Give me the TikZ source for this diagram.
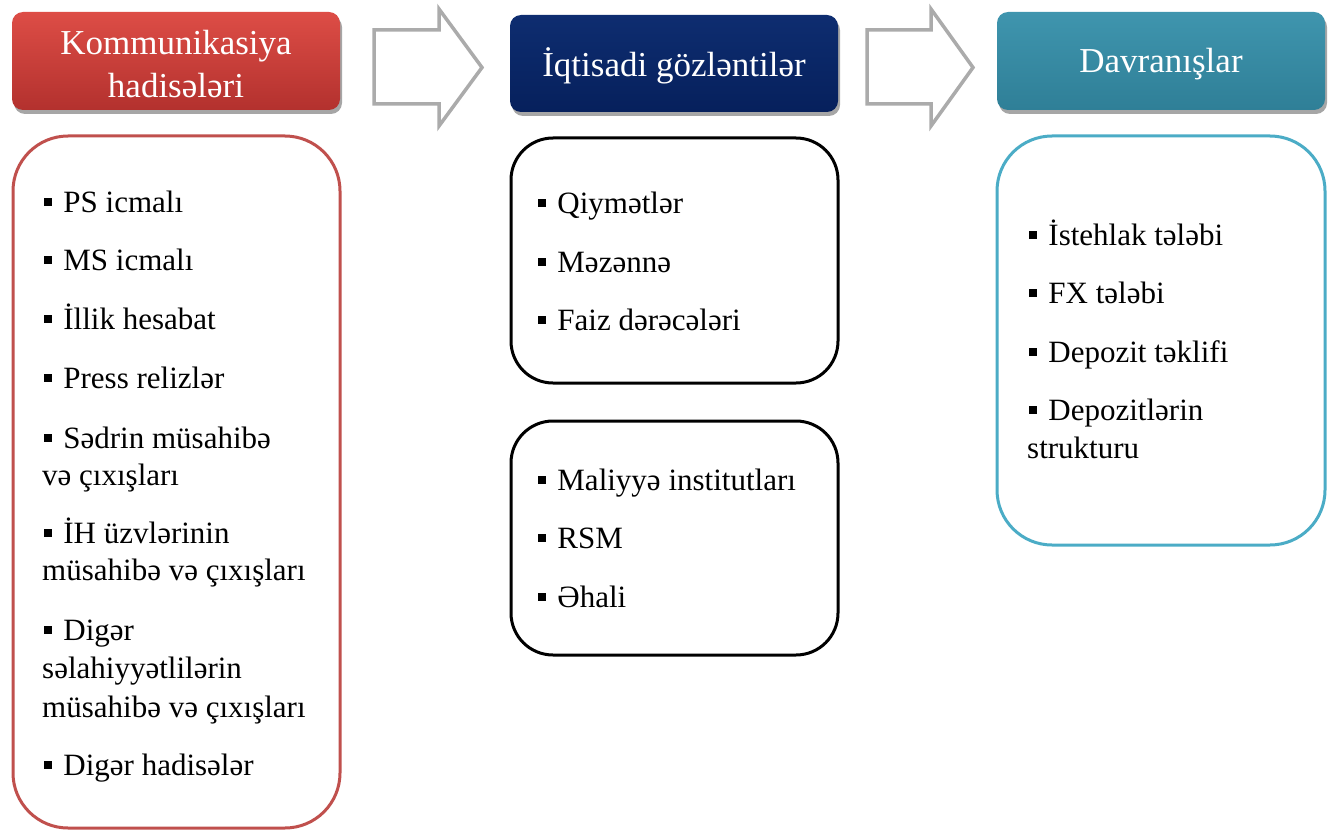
\documentclass[tikz,border=0pt]{standalone}
\usepackage{fontspec}
\setmainfont{Liberation Serif}
\usetikzlibrary{shadows,calc}
\definecolor{hdred}{HTML}{C0504D}
\definecolor{hdredtop}{HTML}{DD4D46}
\definecolor{hdredbot}{HTML}{B3312E}
\definecolor{hdnavytop}{HTML}{0E2D70}
\definecolor{hdnavybot}{HTML}{06205C}
\definecolor{hdtealtop}{HTML}{3F95AE}
\definecolor{hdtealbot}{HTML}{2F7F97}
\definecolor{tealline}{HTML}{4BACC6}
\definecolor{arrowgray}{HTML}{ABABAB}
\newcommand{\bul}{\rule[0.2em]{0.26em}{0.26em}\hspace{0.36em}}
\begin{document}
\begin{tikzpicture}[x=1pt,y=-1pt,
  hdr/.style={rounded corners=11pt, inner sep=0pt, text=white,
    font=\fontsize{35}{43}\selectfont, align=center,
    drop shadow={shadow xshift=2pt, shadow yshift=-4pt, opacity=0.35, fill=black}},
  hdtext/.style={inner sep=0pt, text=white, font=\fontsize{35}{43}\selectfont, align=center},
  listbox/.style={rounded corners=#1, line width=3pt, fill=white},
  item/.style={anchor=base west, inner sep=0pt, font=\fontsize{31}{37}\selectfont},
  hollowarrow/.style={draw=arrowgray, line width=3.5pt, line join=miter, fill=white}
]
\useasboundingbox (0,0) rectangle (1330,832);
% headers
\node[hdr, minimum width=328pt, minimum height=98pt, top color=hdredtop, bottom color=hdredbot] (h1) at (176,61) {};
\node[hdtext] (t1) at (176,64) {Kommunikasiya\\hadisələri};
\node[hdr, minimum width=328pt, minimum height=97pt, top color=hdnavytop, bottom color=hdnavybot] (h2) at (674,63.5) {};
\node[hdtext] (t2) at (674,66) {İqtisadi gözləntilər};
\node[hdr, minimum width=328pt, minimum height=98pt, top color=hdtealtop, bottom color=hdtealbot] (h3) at (1161,61) {};
\node[hdtext] (t3) at (1161,64) {Davranışlar};
% hollow arrows
\draw[hollowarrow] (374,30) -- (439,30) -- (439,9) -- (482,67.5) -- (439,126) -- (439,104) -- (374,104) -- cycle;
\draw[hollowarrow] (867,30) -- (931,30) -- (931,9) -- (973,67.5) -- (931,126) -- (931,104) -- (867,104) -- cycle;
\coordinate (a1) at (374,67);
\coordinate (a2) at (867,67);
% list boxes
\draw[listbox=55pt, draw=hdred] (13,136) rectangle (340,828);
\node[inner sep=0pt, minimum width=327pt, minimum height=692pt] (b1) at (176.5,482) {};
\draw[listbox=42pt, draw=black] (511,138) rectangle (838,383);
\node[inner sep=0pt, minimum width=327pt, minimum height=245pt] (b2) at (674.5,260.5) {};
\draw[listbox=42pt, draw=black] (511,421) rectangle (838,655);
\node[inner sep=0pt, minimum width=327pt, minimum height=234pt] (b3) at (674.5,538) {};
\draw[listbox=55pt, draw=tealline] (997,136) rectangle (1325,545);
\node[inner sep=0pt, minimum width=328pt, minimum height=409pt] (b4) at (1161,340.5) {};
% left items
\node[item] (l1) at (44,212) {\bul PS icmalı};
\node[item] (l2) at (44,270) {\bul MS icmalı};
\node[item] (l3) at (44,329) {\bul İllik hesabat};
\node[item] (l4) at (44,388) {\bul Press relizlər};
\node[item] (l5) at (44,448) {\bul Sədrin müsahibə};
\node[item] (l5b) at (42,485) {və çıxışları};
\node[item] (l6) at (44,543) {\bul İH üzvlərinin};
\node[item] (l6b) at (42,580) {müsahibə və çıxışları};
\node[item] (l7) at (44,640) {\bul Digər};
\node[item] (l7b) at (42,678) {səlahiyyətlilərin};
\node[item] (l7c) at (42,717) {müsahibə və çıxışları};
\node[item] (l8) at (44,775) {\bul Digər hadisələr};
% middle items
\node[item] (m1) at (538,213) {\bul Qiymətlər};
\node[item] (m2) at (538,272) {\bul Məzənnə};
\node[item] (m3) at (538,330) {\bul Faiz dərəcələri};
\node[item] (m4) at (538,490) {\bul Maliyyə institutları};
\node[item] (m5) at (538,548) {\bul RSM};
\node[item] (m6) at (538,607) {\bul Əhali};
% right items
\node[item] (r1) at (1029,245) {\bul İstehlak tələbi};
\node[item] (r2) at (1029,303) {\bul FX tələbi};
\node[item] (r3) at (1029,362) {\bul Depozit təklifi};
\node[item] (r4) at (1029,420) {\bul Depozitlərin};
\node[item] (r4b) at (1027,458) {strukturu};
\end{tikzpicture}
\end{document}
